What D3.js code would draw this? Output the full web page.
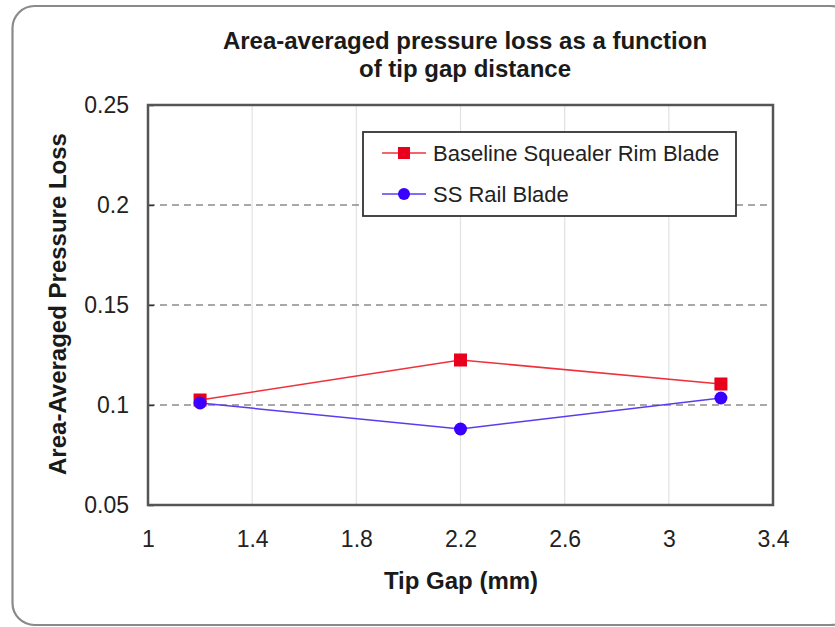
<!DOCTYPE html>
<html>
<head>
<meta charset="utf-8">
<script src="https://cdn.jsdelivr.net/npm/d3@7"></script>
<style>
  html, body { margin: 0; padding: 0; background: #fff; }
  svg { display: block; font-family: "Liberation Sans", Arial, sans-serif; }
</style>
</head>
<body>
<svg id="chart" width="835" height="627"></svg>
<script>
// Tip gap values (mm) and area-averaged pressure loss for each blade design
const tipGaps = [1.2, 2.2, 3.2];
const baselineLoss = [0.1025, 0.1225, 0.1105];
const ssRailLoss = [0.101, 0.088, 0.1035];
const seriesNames = ["Baseline Squealer Rim Blade", "SS Rail Blade"];
const xTicks = [1, 1.4, 1.8, 2.2, 2.6, 3, 3.4];
const yTicks = [0.05, 0.1, 0.15, 0.2, 0.25];
const titleLines = ["Area-averaged pressure loss as a function", "of tip gap distance"];

const svg = d3.select("#chart");
const margin = { left: 148, right: 62, top: 105, bottom: 122 };
const W = 835, H = 627;
const pw = W - margin.left - margin.right;
const ph = H - margin.top - margin.bottom;

// Outer rounded frame
svg.append("rect")
  .attr("x", 12.5).attr("y", 6).attr("width", 840).attr("height", 619)
  .attr("rx", 22).attr("fill", "#fff")
  .attr("stroke", "#8a8a8a").attr("stroke-width", 2.2);

const x = d3.scaleLinear().domain([1, 3.4]).range([0, pw]);
const y = d3.scaleLinear().domain([0.05, 0.25]).range([ph, 0]);

const g = svg.append("g").attr("transform", `translate(${margin.left},${margin.top})`);

// Vertical gridlines
g.append("g").selectAll("line")
  .data(xTicks.slice(1, -1)).join("line")
  .attr("x1", d => x(d)).attr("x2", d => x(d))
  .attr("y1", 0).attr("y2", ph)
  .attr("stroke", "#e2e2e2").attr("stroke-width", 1.2);

// Horizontal dashed gridlines
g.append("g").selectAll("line")
  .data(yTicks.slice(1, -1)).join("line")
  .attr("x1", 0).attr("x2", pw)
  .attr("y1", d => y(d)).attr("y2", d => y(d))
  .attr("stroke", "#8c8c8c").attr("stroke-width", 1.5)
  .attr("stroke-dasharray", "7,5");

// Axes
const tickFont = 23;
const xAxis = g.append("g").attr("transform", `translate(0,${ph})`)
  .call(d3.axisBottom(x).tickValues(xTicks).tickSize(0).tickPadding(42)
    .tickFormat(d => d3.format("")(+d.toFixed(1))));
const yAxis = g.append("g")
  .call(d3.axisLeft(y).tickValues(yTicks).tickSizeInner(-6).tickSizeOuter(0).tickPadding(8)
    .tickFormat(d => d3.format("")(+d.toFixed(2))));
[xAxis, yAxis].forEach(a => {
  a.select(".domain").remove();
  a.selectAll("text").attr("font-size", tickFont).attr("fill", "#222")
    .attr("font-family", "'Liberation Sans', Arial, sans-serif");
  a.selectAll("line").attr("stroke", "#333").attr("stroke-width", 1.5);
});
xAxis.selectAll("text").attr("dy", "0");
yAxis.selectAll(".tick line").attr("x2", 6);
yAxis.selectAll("text").attr("x", -19);

// Plot frame
g.append("rect").attr("x", 0).attr("y", 0).attr("width", pw).attr("height", ph)
  .attr("fill", "none").attr("stroke", "#555").attr("stroke-width", 2.5);

// Series lines and markers
const line = d3.line().x(d => x(d[0])).y(d => y(d[1]));
const baseData = tipGaps.map((t, i) => [t, baselineLoss[i]]);
const ssData = tipGaps.map((t, i) => [t, ssRailLoss[i]]);

g.append("path").datum(baseData).attr("d", line)
  .attr("fill", "none").attr("stroke", "#f0303c").attr("stroke-width", 1.5);
g.append("path").datum(ssData).attr("d", line)
  .attr("fill", "none").attr("stroke", "#5a3cf0").attr("stroke-width", 1.5);

g.append("g").selectAll("rect").data(baseData).join("rect")
  .attr("x", d => x(d[0]) - 6.5).attr("y", d => y(d[1]) - 6.5)
  .attr("width", 13).attr("height", 13).attr("fill", "#e8001c");
g.append("g").selectAll("circle").data(ssData).join("circle")
  .attr("cx", d => x(d[0])).attr("cy", d => y(d[1])).attr("r", 6.5)
  .attr("fill", "#3a00ff");

// Legend
const lg = svg.append("g").attr("transform", "translate(363,132)");
lg.append("rect").attr("x", 0).attr("y", 0).attr("width", 373).attr("height", 84)
  .attr("fill", "#fff").attr("stroke", "#333").attr("stroke-width", 1.8);
const rows = [
  { name: seriesNames[0], color: "#f0303c", fill: "#e8001c", shape: "square", dy: 21 },
  { name: seriesNames[1], color: "#5a3cf0", fill: "#3a00ff", shape: "circle", dy: 62 }
];
rows.forEach(r => {
  lg.append("line").attr("x1", 19).attr("x2", 63).attr("y1", r.dy).attr("y2", r.dy)
    .attr("stroke", r.color).attr("stroke-width", 1.5);
  if (r.shape === "square") {
    lg.append("rect").attr("x", 35).attr("y", r.dy - 6).attr("width", 12).attr("height", 12).attr("fill", r.fill);
  } else {
    lg.append("circle").attr("cx", 41).attr("cy", r.dy).attr("r", 6).attr("fill", r.fill);
  }
  lg.append("text").attr("x", 70).attr("y", r.dy).attr("dy", "0.36em")
    .attr("font-size", 22).attr("fill", "#222").text(r.name);
});

// Title
svg.append("g").selectAll("text").data(titleLines).join("text")
  .attr("x", 465).attr("y", (d, i) => 49 + i * 28)
  .attr("text-anchor", "middle").attr("font-size", 24).attr("font-weight", "bold")
  .attr("fill", "#1a1a1a").text(d => d);

// Axis titles
svg.append("text").attr("x", 461).attr("y", 589).attr("text-anchor", "middle")
  .attr("font-size", 24).attr("font-weight", "bold").attr("fill", "#1a1a1a")
  .text("Tip Gap (mm)");
svg.append("text").attr("transform", "translate(66,304) rotate(-90)")
  .attr("text-anchor", "middle").attr("font-size", 24).attr("font-weight", "bold")
  .attr("fill", "#1a1a1a").text("Area-Averaged Pressure Loss");
</script>
</body>
</html>
